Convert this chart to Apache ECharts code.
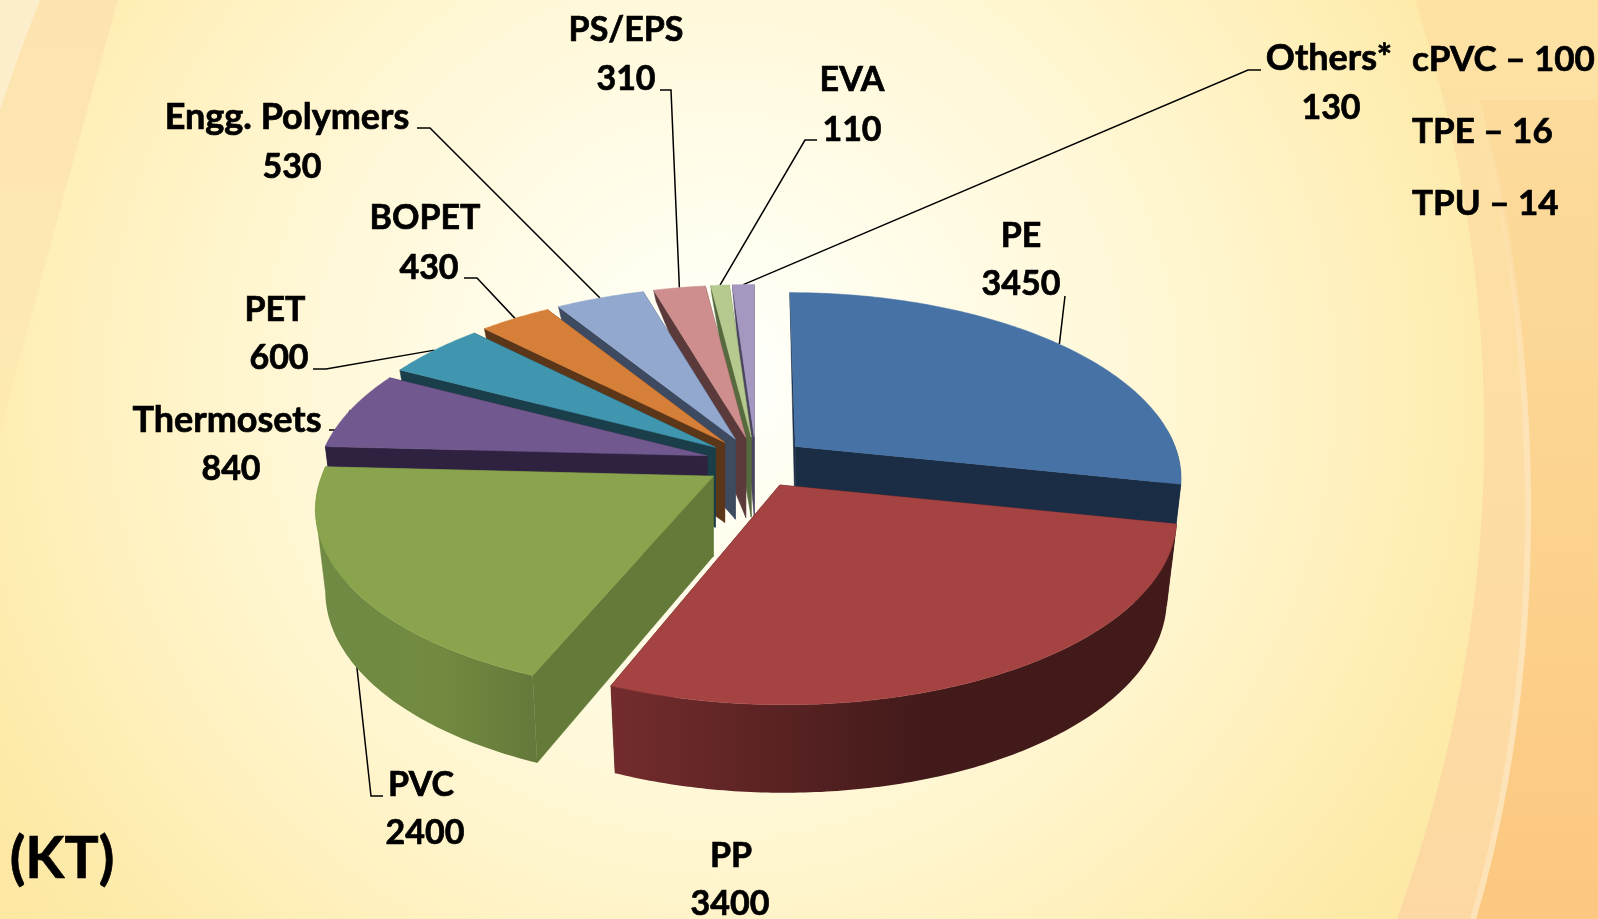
<!DOCTYPE html>
<html><head><meta charset="utf-8"><style>html,body{margin:0;padding:0;background:#fff8dc}#c{width:1598px;height:919px}</style>
<script src="https://cdn.jsdelivr.net/npm/echarts@6/dist/echarts.min.js"></script></head>
<body><div id="c"></div>
<script>
const categories = ['PE','PP','PVC','Thermosets','PET','BOPET','Engg. Polymers','PS/EPS','EVA','Others*'];
const values = [3450,3400,2400,840,600,430,530,310,110,130];
const othersBreakdown = ['cPVC – 100','TPE – 16','TPU – 14'];
const unitLabel = '(KT)';
const topColors = ['#4672a6','#a54342','#89a44d','#71588f','#4095af','#d67f39','#92a8cf','#cd8e8d','#b6c98f','#a598c0'];
const cutColors = ['#1a2d45','#431a1a','#647a38','#2e2240','#1a3e4a','#5c3618','#3d4a60','#5a3a3a','#566a3e','#4a4560'];
const wallStops = [['#1a2d45','#1a2d45','#1a2d45'],['#742c2d','#431a1a','#431a1a'],['#708a44','#728a40','#64793a']];
const paintOrder = [9,8,7,6,5,4,3,0,2,1];

/* label layout: [name cx, name cy, value cx, value cy, elbow and end of leader] */
const labelLayout = [
 [1021,236,1021,284.5,[[1065,296]]],
 [731,856,730,904.5,null],
 [421,785,425,833.5,[[371,796],[383,796]]],
 [227,420,231,469,[[340,430],[329,430]]],
 [275,310,279,358.5,[[326,369],[313,369]]],
 [425,218.5,429,268,[[477,278],[464,278]]],
 [287,117,292,167,[[430,128],[417,128]]],
 [626,30.5,626,79.5,[[671,90],[660,90]]],
 [852,80,852,130,[[805,140],[817,140]]],
 [1329,58.5,1331,108,[[1248,70],[1261,70]]]
];

/* pie projection */
const geo = {cx:756, cy:462.5, ex:50.6, ey:25.5, rx:380, ry:181, k:0.16, apexWall:80, frontGain:8, backLoss:72, xShrink:0.975};
const total = values.reduce((a,b)=>a+b,0);
const angles = []; { let acc=0; values.forEach(v=>{const s=acc/total*2*Math.PI; acc+=v; angles.push([s,acc/total*2*Math.PI]);}); }
function mid(i){return (angles[i][0]+angles[i][1])/2;}
function apex(i){const m=mid(i);return [geo.cx+geo.ex*Math.sin(m),geo.cy-geo.ey*Math.cos(m)];}
function rim(i,t){
  const a=apex(i),c=Math.cos(t),s=1/(1+geo.k*c);
  const f=(mid(i)>Math.PI?1.02:1.012)-0.02*Math.cos(mid(i));
  const ax=a[0]-geo.cx, leanX=(ax<0&&s<1)?0:ax*(s-1), leanY=(a[1]-geo.cy)*(s-1);
  return [a[0]+geo.rx*f*Math.sin(t)*s+leanX,a[1]-geo.ry*c*s+leanY];
}
function wall(t){const c=Math.cos(t);return c>=0?geo.apexWall-geo.backLoss*c:geo.apexWall-geo.frontGain*c;}
function rimBottom(i,t){const a=apex(i),p=rim(i,t);return [a[0]+(p[0]-a[0])*geo.xShrink,p[1]+wall(t)];}
function samples(i,filter){const [a,b]=angles[i],n=Math.max(4,Math.ceil((b-a)/0.012)),o=[];for(let j=0;j<=n;j++){const t=a+(b-a)*j/n;if(!filter||filter(t))o.push(t);}return o;}
const leftmost=pts=>pts.reduce((m,p)=>p[0]<m[0]?p:m,pts[0]);

function renderSlice(params,api){
  const i=api.value(0),[a0,a1]=angles[i],A=apex(i),Ab=[A[0],A[1]+geo.apexWall],children=[];
  [a0,a1].forEach(t=>{children.push({type:'polygon',shape:{points:[A,rim(i,t),rimBottom(i,t),Ab]},style:{fill:cutColors[i],stroke:cutColors[i],lineWidth:0.5}});});
  const front=samples(i,t=>Math.cos(t)<0.1);
  if(front.length>1){
    const st=wallStops[i]||[cutColors[i],cutColors[i],cutColors[i]];
    const topArc=front.map(t=>rim(i,t)),botArc=front.map(t=>rimBottom(i,t));
    if(wallStops[i]&&mid(i)>Math.PI){
      children.push({type:'polygon',shape:{points:[A,leftmost(topArc),leftmost(botArc)]},style:{fill:st[0],stroke:st[0],lineWidth:0.5}});
    }
    const pts=topArc.concat(botArc.slice().reverse());
    children.push({type:'polygon',shape:{points:pts},style:{fill:{type:'linear',x:0,y:0,x2:1,y2:0,colorStops:[{offset:0,color:st[0]},{offset:0.55,color:st[1]},{offset:1,color:st[2]}]}}});
  }
  const topPts=[A].concat(samples(i).map(t=>rim(i,t)));
  children.push({type:'polygon',shape:{points:topPts},style:{fill:topColors[i],stroke:topColors[i],lineWidth:0.5}});
  return {type:'group',children};
}
const textFont=s=>'bold '+(/[a-z]/.test(s)?36:34)+'px Lato';
const txt=(text,x,y,font,align)=>({text,x,y,font,fill:'#000',stroke:'#000',lineWidth:0.7,align:align||'center',verticalAlign:'middle'});
function renderLabel(params,api){
  const i=api.value(0),L=labelLayout[i],children=[];
  if(L[4]){children.push({type:'polyline',shape:{points:[rim(i,mid(i))].concat(L[4])},style:{fill:null,stroke:'#000',lineWidth:1.5}});}
  children.push({type:'text',style:txt(categories[i],L[0],L[1],textFont(categories[i]))});
  children.push({type:'text',style:txt(String(values[i]),L[2],L[3],textFont('0'))});
  return {type:'group',children};
}

/* background decoration curves */
function quad(p0,c,p1){const o=[];for(let j=0;j<=40;j++){const t=j/40,u=1-t;o.push([u*u*p0[0]+2*u*t*c[0]+t*t*p1[0],u*u*p0[1]+2*u*t*c[1]+t*t*p1[1]]);}return o;}
function cubic(p0,c0,c1,p1){const o=[];for(let j=0;j<=60;j++){const t=j/60,u=1-t;const f=k=>u*u*u*p0[k]+3*u*u*t*c0[k]+3*u*t*t*c1[k]+t*t*t*p1[k];o.push([f(0),f(1)]);}return o;}
const edgeRight=quad([1415,0],[1562,460],[1397,919]);
const edgeHi=cubic([1480,100],[1535,330],[1555,640],[1473,919]);
const noteY=[59.5,131.5,203.5];
const option={
  animation:false,
  backgroundColor:{type:'radial',x:720,y:380,r:900,global:true,colorStops:[{offset:0,color:'#ffffff'},{offset:0.12,color:'#fffef2'},{offset:0.45,color:'#fff8d8'},{offset:0.72,color:'#fff0bc'},{offset:0.9,color:'#fdeaa8'},{offset:1,color:'#fde7a2'}]},
  graphic:{elements:[
    {type:'polygon',z:-5,shape:{points:[[0,0]].concat(quad([118,0],[70,170],[0,433]))},style:{fill:{type:'linear',x:0,y:0,x2:0,y2:1,colorStops:[{offset:0,color:'#fde3b0'},{offset:0.7,color:'#fde8b4'},{offset:1,color:'#fdeab0'}]}}},
    {type:'polygon',z:-4,shape:{points:[[0,0]].concat(quad([40,0],[20,50],[0,110]))},style:{fill:'#fdeecb'}},
    {type:'polygon',z:-5,shape:{points:edgeRight.concat([[1598,919],[1598,0]])},style:{fill:{type:'linear',x:0,y:0,x2:0,y2:1,colorStops:[{offset:0,color:'#fde2a4'},{offset:1,color:'#fdd8a2'}]}}},
    {type:'polygon',z:-4,shape:{points:edgeHi.concat([[1598,919],[1598,100]])},style:{fill:{type:'linear',x:0,y:0,x2:0,y2:1,colorStops:[{offset:0,color:'#fcdb9c'},{offset:0.5,color:'#fcd38f'},{offset:1,color:'#fcc780'}]}}},
    {type:'polyline',z:-3,shape:{points:edgeHi},style:{fill:null,stroke:{type:'linear',x:0,y:0,x2:0,y2:1,colorStops:[{offset:0,color:'rgba(253,228,184,0)'},{offset:0.4,color:'#fde4b8'},{offset:1,color:'#fde2b8'}]},lineWidth:6}},
    {type:'text',z:50,style:txt(unitLabel,62,860,'bold 57px Lato')},
    ...othersBreakdown.map((t,j)=>({type:'text',z:50,style:txt(t,1412,noteY[j],'bold 35px Lato','left')}))
  ]},
  series:[
    {type:'custom',coordinateSystem:'none',z:2,silent:true,renderItem:renderLabel,data:categories.map((c,i)=>[i])},
    {type:'custom',coordinateSystem:'none',z:3,silent:true,renderItem:renderSlice,data:paintOrder.map(i=>[i])}
  ]
};
const chart=echarts.init(document.getElementById('c'),null,{renderer:'canvas',width:1598,height:919});
chart.setOption(option);
</script></body></html>
